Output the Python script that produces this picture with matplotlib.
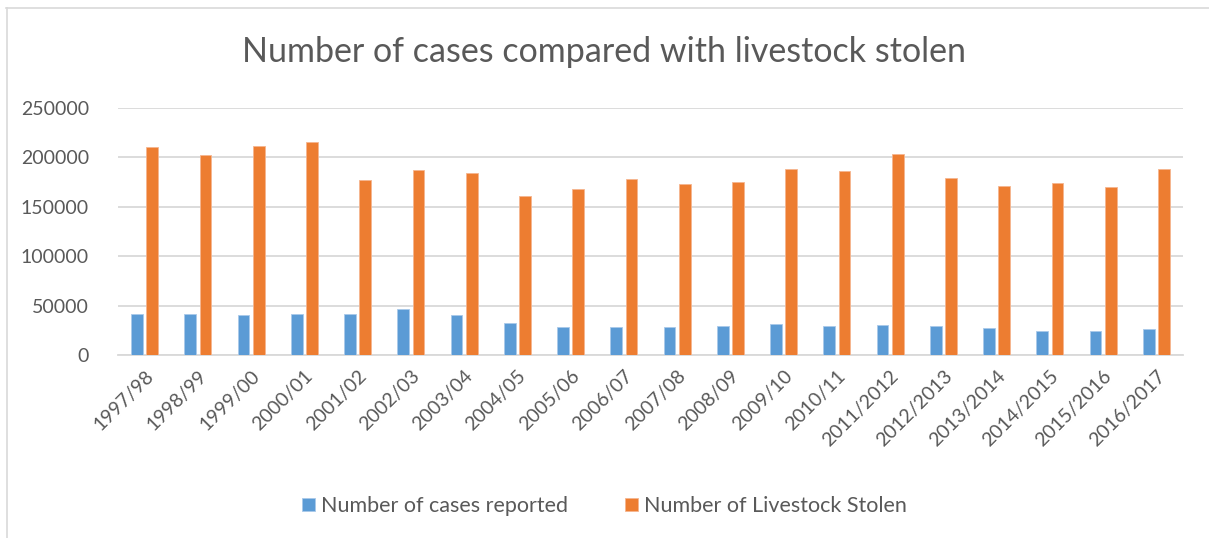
import matplotlib
matplotlib.use("Agg")
import matplotlib.pyplot as plt
import numpy as np
from matplotlib.lines import Line2D

categories = ["1997/98", "1998/99", "1999/00", "2000/01", "2001/02", "2002/03",
              "2003/04", "2004/05", "2005/06", "2006/07", "2007/08", "2008/09",
              "2009/10", "2010/11", "2011/2012", "2012/2013", "2013/2014",
              "2014/2015", "2015/2016", "2016/2017"]
cases_reported = [41100, 41100, 40800, 41100, 41100, 46200, 40800, 32000, 28000, 28000,
                  28000, 29300, 31700, 29300, 30700, 29300, 27600, 24300, 24300, 25900]
livestock_stolen = [211000, 202500, 211600, 215700, 177300, 187400, 184300, 161100, 168500, 178000,
                    173200, 175200, 188400, 186000, 203200, 179600, 171200, 173900, 170200, 188400]
series_names = ["Number of cases reported", "Number of Livestock Stolen"]
yticks = [0, 50000, 100000, 150000, 200000, 250000]

plt.rcParams['font.family'] = ['Lato', 'DejaVu Sans']
text_color = "#595959"
grid_color = "#d9d9d9"

fig = plt.figure(figsize=(12.09, 5.38), dpi=100)
ax = fig.add_axes([118/1209, 1 - 355/538, (1183-118)/1209, (355-108)/538])

x = np.arange(len(categories))
w = 0.22
off = 0.145
ax.bar(x - off, cases_reported, width=w, color="#5b9bd5", edgecolor="#a9c9ea",
       linewidth=0.6, label=series_names[0], zorder=3)
ax.bar(x + off, livestock_stolen, width=w, color="#ed7d31", edgecolor="#f5b58f",
       linewidth=0.6, label=series_names[1], zorder=3)

ax.set_xlim(-0.5, len(categories) - 0.5)
ax.set_ylim(0, 250000)
ax.set_yticks(yticks)
ax.set_yticklabels([str(v) for v in yticks])
ax.yaxis.grid(True, color=grid_color, linewidth=1.3, zorder=0)
ax.set_axisbelow(True)
for s in ["top", "right", "left"]:
    ax.spines[s].set_visible(False)
ax.spines["bottom"].set_color(grid_color)
ax.spines["bottom"].set_linewidth(1.3)
ax.tick_params(axis="both", length=0, colors=text_color, labelsize=14)
ax.tick_params(axis="y", pad=21)
ax.set_xticks(x)
ax.set_xticklabels(categories, rotation=45, ha="right", va="top", rotation_mode="anchor")
ax.tick_params(axis="x", pad=9)

fig.text(0.5, 1 - 52/538, "Number of cases compared with livestock stolen",
         ha="center", va="center", fontsize=24.5, color=text_color)

leg = fig.legend(loc="center", bbox_to_anchor=(0.5, 1 - 506/538), ncol=2, frameon=False,
                 fontsize=15.5, handlelength=0.6, handleheight=0.6, handletextpad=0.3,
                 columnspacing=2.65, labelcolor=text_color)

# outer chart border
fig.add_artist(Line2D([6/1209, 1], [1 - 8/538, 1 - 8/538], color="#d9d9d9", linewidth=1.2,
                      transform=fig.transFigure))
fig.add_artist(Line2D([7/1209, 7/1209], [0, 1 - 8/538], color="#d9d9d9", linewidth=1.2,
                      transform=fig.transFigure))

fig.savefig("out.png", dpi=100)
